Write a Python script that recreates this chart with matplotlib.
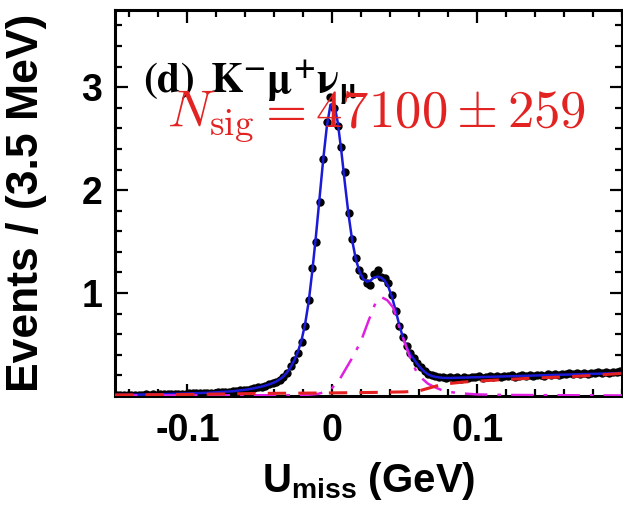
import numpy as np
import matplotlib
matplotlib.use("Agg")
from matplotlib import pyplot as plt
from matplotlib import font_manager

# U_miss distribution, bins of 2.5 MeV from -0.15 to 0.20 GeV
x_lo = -0.15
x_hi = 0.20
n_bins = 140

data_y = [
    0.010, 0.012, 0.009, 0.011, 0.013, 0.010, 0.014, 0.012, 0.015, 0.013,
    0.016, 0.014, 0.018, 0.017, 0.020, 0.019, 0.022, 0.021, 0.024, 0.023,
    0.026, 0.025, 0.028, 0.027, 0.030, 0.031, 0.033, 0.034, 0.036, 0.038,
    0.041, 0.043, 0.047, 0.050, 0.054, 0.058, 0.063, 0.069, 0.075, 0.083,
    0.091, 0.100, 0.112, 0.125, 0.140, 0.160, 0.185, 0.225, 0.290, 0.345,
    0.420, 0.520, 0.680, 0.930, 1.240, 1.500, 1.880, 2.300, 2.660, 2.900,
    2.800, 2.620, 2.420, 2.180, 1.780, 1.530, 1.340, 1.220, 1.170, 1.100,
    1.080, 1.190, 1.220, 1.160, 1.150, 1.100, 0.980, 0.830, 0.680, 0.570,
    0.490, 0.420, 0.370, 0.320, 0.280, 0.245, 0.215, 0.200, 0.190, 0.185,
    0.180, 0.175, 0.180, 0.175, 0.185, 0.170, 0.180, 0.175, 0.185, 0.180,
    0.190, 0.175, 0.185, 0.195, 0.180, 0.190, 0.185, 0.195, 0.190, 0.200,
    0.185, 0.195, 0.200, 0.190, 0.205, 0.195, 0.200, 0.205, 0.195, 0.210,
    0.200, 0.210, 0.205, 0.215, 0.210, 0.220, 0.210, 0.220, 0.215, 0.225,
    0.215, 0.225, 0.220, 0.230, 0.225, 0.230, 0.225, 0.235, 0.230, 0.240,
]

fit_y = [
    0.010, 0.011, 0.011, 0.012, 0.012, 0.013, 0.013, 0.014, 0.014, 0.015,
    0.016, 0.016, 0.017, 0.018, 0.019, 0.020, 0.021, 0.022, 0.023, 0.024,
    0.025, 0.026, 0.027, 0.028, 0.030, 0.031, 0.033, 0.034, 0.036, 0.038,
    0.041, 0.043, 0.046, 0.050, 0.054, 0.058, 0.063, 0.069, 0.076, 0.083,
    0.091, 0.101, 0.112, 0.125, 0.141, 0.162, 0.190, 0.228, 0.280, 0.345,
    0.430, 0.540, 0.700, 0.920, 1.220, 1.560, 1.930, 2.300, 2.620, 2.830,
    2.840, 2.660, 2.380, 2.060, 1.760, 1.510, 1.330, 1.210, 1.140, 1.110,
    1.120, 1.150, 1.160, 1.150, 1.120, 1.060, 0.960, 0.830, 0.690, 0.570,
    0.480, 0.410, 0.360, 0.310, 0.270, 0.235, 0.210, 0.195, 0.185, 0.180,
    0.176, 0.175, 0.175, 0.176, 0.177, 0.178, 0.178, 0.179, 0.180, 0.181,
    0.182, 0.183, 0.184, 0.185, 0.186, 0.187, 0.188, 0.189, 0.190, 0.191,
    0.192, 0.193, 0.194, 0.195, 0.196, 0.197, 0.198, 0.199, 0.200, 0.201,
    0.202, 0.203, 0.204, 0.205, 0.206, 0.207, 0.208, 0.209, 0.210, 0.211,
    0.212, 0.214, 0.215, 0.216, 0.217, 0.219, 0.220, 0.221, 0.222, 0.224,
]

# peaking background (magenta dash-dot)
peak_x = [-0.15, -0.02, -0.01, -0.005, 0.0, 0.005, 0.01, 0.015, 0.02, 0.025,
          0.03, 0.034, 0.038, 0.042, 0.046, 0.05, 0.054, 0.058, 0.062, 0.066,
          0.07, 0.075, 0.08, 0.09, 0.10, 0.12, 0.20]
peak_y = [0.005, 0.008, 0.02, 0.04, 0.08, 0.16, 0.28, 0.40, 0.54, 0.73,
          0.91, 0.96, 0.93, 0.86, 0.68, 0.52, 0.36, 0.24, 0.17, 0.12,
          0.09, 0.06, 0.04, 0.025, 0.015, 0.01, 0.005]

# other background (red dashed)
bkg_x = [-0.15, -0.10, -0.05, 0.0, 0.03, 0.05, 0.06, 0.065, 0.07, 0.075,
         0.08, 0.09, 0.10, 0.12, 0.14, 0.16, 0.18, 0.20]
bkg_y = [0.01, 0.015, 0.025, 0.03, 0.035, 0.04, 0.05, 0.07, 0.09, 0.11,
         0.12, 0.135, 0.145, 0.16, 0.175, 0.185, 0.20, 0.22]

names = {f.name for f in font_manager.fontManager.ttflist}
sans = "Liberation Sans Narrow" if "Liberation Sans Narrow" in names else "Liberation Sans"

plt.rcParams["font.family"] = [sans, "DejaVu Sans"]
plt.rcParams["font.weight"] = "bold"
plt.rcParams["axes.labelweight"] = "bold"
plt.rcParams["axes.unicode_minus"] = False
plt.rcParams["mathtext.fontset"] = "custom"
plt.rcParams["mathtext.bf"] = sans + ":bold"
plt.rcParams["mathtext.rm"] = sans + ":bold"

edges = np.linspace(x_lo, x_hi, n_bins + 1)
centers = 0.5 * (edges[:-1] + edges[1:])

fig = plt.figure(figsize=(6.23, 5.18), dpi=100)
ax = fig.add_axes([115 / 623, 1 - 396 / 518, 507 / 623, 386 / 518])

ax.plot(centers, data_y, "o", color="black", markersize=5, zorder=2)
ax.plot(centers, fit_y, "-", color="#1a1ad8", lw=1.8, zorder=3)
ax.plot(peak_x, peak_y, color="#e020e0", lw=1.8, dashes=[9, 4, 1.5, 4], zorder=4)
ax.plot(bkg_x, bkg_y, color="#e42020", lw=2.2, dashes=[6, 4], zorder=4)

ax.set_xlim(x_lo, x_hi)
ax.set_ylim(0, 3.75)
ax.set_xticks([-0.1, 0, 0.1])
ax.set_xticklabels(["-0.1", "0", "0.1"])
ax.set_xticks(np.arange(-0.14, 0.2001, 0.02), minor=True)
ax.set_yticks([1, 2, 3])
ax.set_yticks(np.arange(0.2, 3.75, 0.2), minor=True)

ax.tick_params(which="both", direction="in", top=True, right=True, width=1.6)
ax.tick_params(which="major", length=9, labelsize=27, pad=12)
ax.tick_params(axis="y", which="major", pad=9)
ax.tick_params(which="minor", length=5)
for s in ax.spines.values():
    s.set_linewidth(2.2)

ax.set_xlabel(r"U$_{\mathbf{miss}}$ (GeV)", fontsize=29, fontweight="bold", labelpad=8)
ax.set_ylabel("Events / (3.5 MeV)", fontsize=32, fontweight="bold")
ax.yaxis.set_label_coords(-0.135, 0.5)

ax.text(0.055, 0.785, r"$\mathbf{(d)}\ \,\mathbf{K}^{\mathrm{-}}\mathrm{\mu}^{+}\mathrm{\nu}_{\mathrm{\mu}}$",
        transform=ax.transAxes, fontsize=30, color="black",
        math_fontfamily="stix", ha="left", va="baseline")
ax.text(0.103, 0.697, r"$N_{\rm sig} = 47100 \pm 259$",
        transform=ax.transAxes, fontsize=38, color="#e32222",
        math_fontfamily="cm", ha="left", va="baseline")

fig.savefig("out.png", dpi=100)
